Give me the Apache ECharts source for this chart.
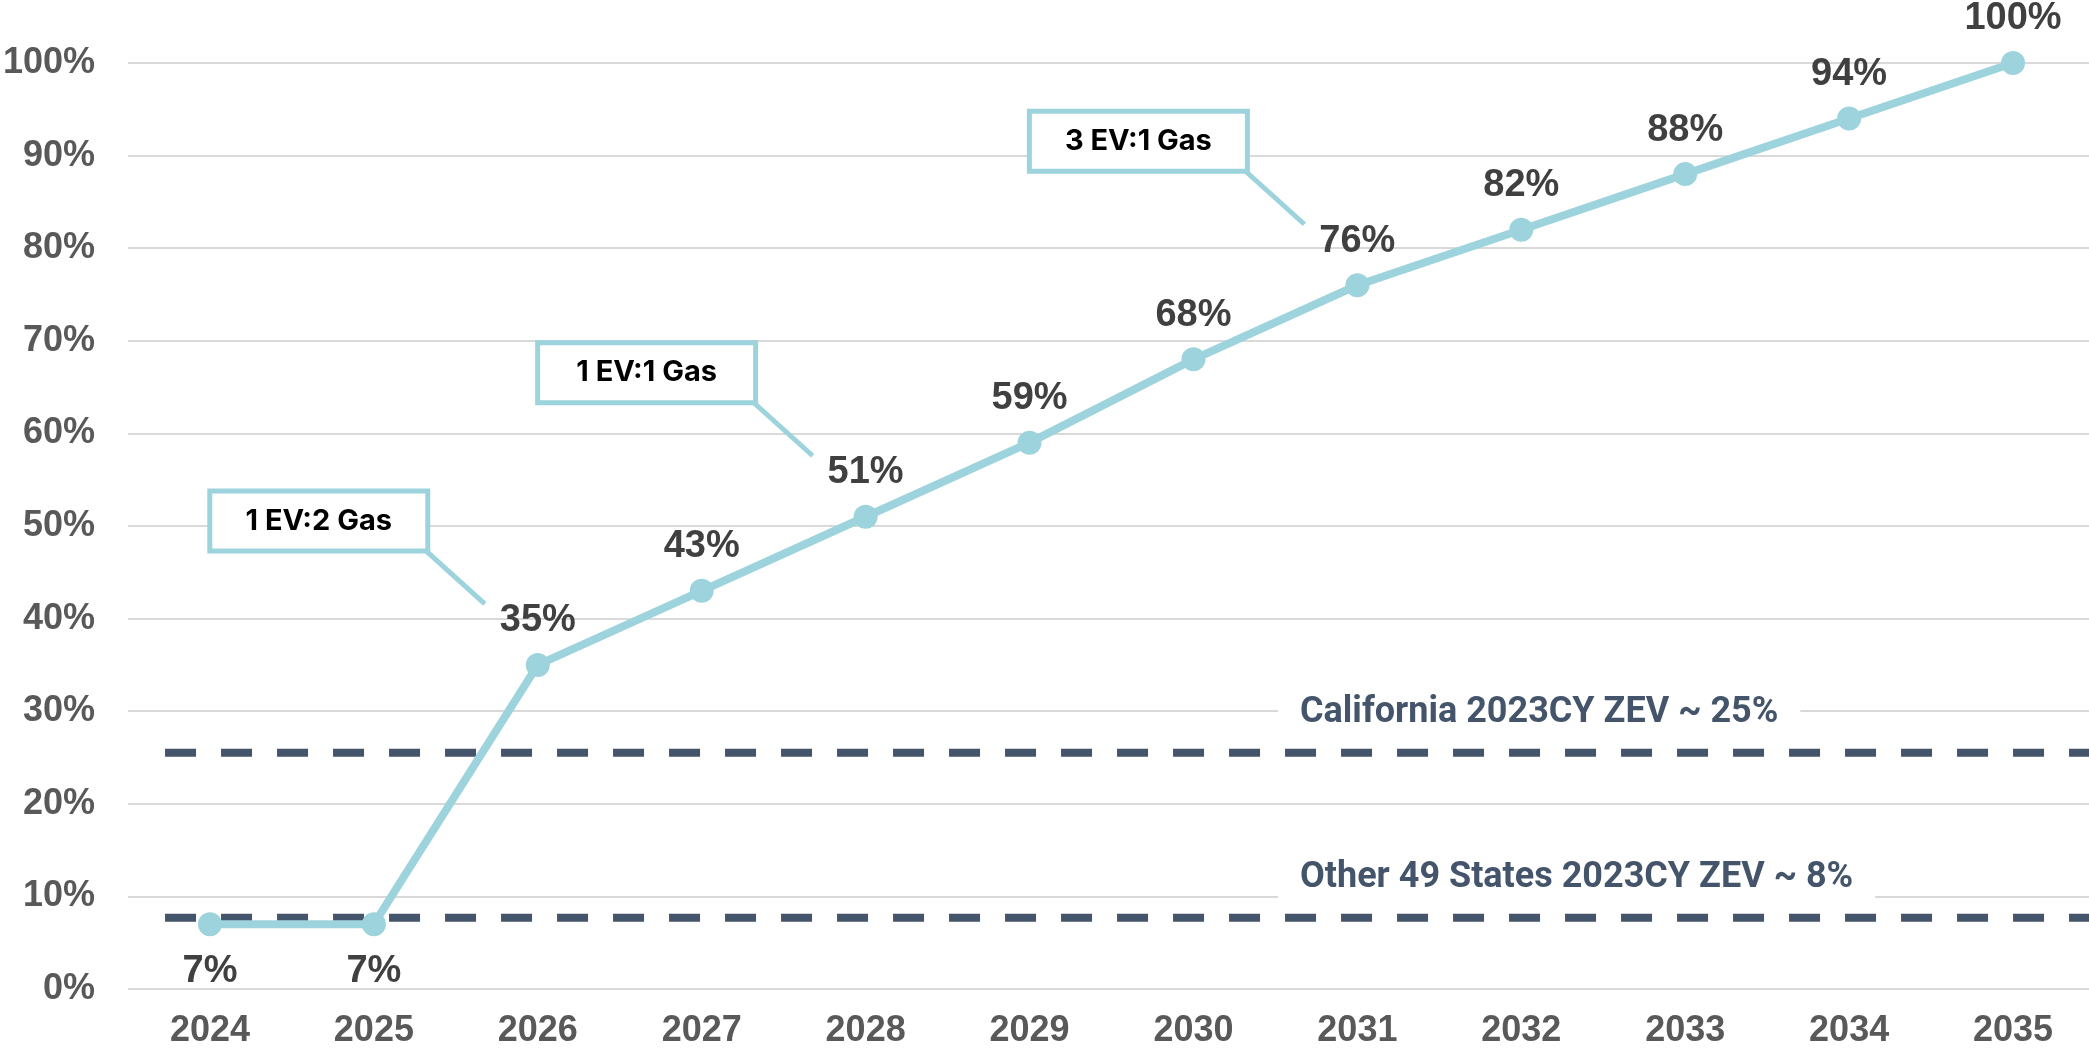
<!DOCTYPE html>
<html>
<head>
<meta charset="utf-8">
<script src="https://cdn.jsdelivr.net/npm/echarts@6/dist/echarts.min.js"></script>
<style>
  html, body { margin: 0; padding: 0; background: #ffffff; }
  #chart { width: 2089px; height: 1052px; }
</style>
</head>
<body>
<div id="chart"></div>
<script>
// data
const years = ['2024', '2025', '2026', '2027', '2028', '2029', '2030', '2031', '2032', '2033', '2034', '2035'];
const zevShare = [7, 7, 35, 43, 51, 59, 68, 76, 82, 88, 94, 100];

// reference lines (2023 calendar year ZEV share)
const refNames = ['California 2023CY ZEV ~ 25%', 'Other 49 States 2023CY ZEV ~ 8%'];
const refValues = [25.5, 7.7];

// callout boxes pinned to points
const calloutYears = ['2026', '2028', '2031'];
const calloutTexts = ['1 EV:2 Gas', '1 EV:1 Gas', '3 EV:1 Gas'];

const teal = '#9dd3dc';
const slate = '#44546a';

const chart = echarts.init(document.getElementById('chart'));

// first two points have their labels below the marker
const lineData = zevShare.map((v, i) => ({
  value: v,
  label: i < 2 ? { position: 'bottom', distance: 16 } : undefined
}));

// dashed reference lines run on a hidden value x-axis (band units)
const refSeries = refValues.map((v, i) => ({
  name: refNames[i],
  type: 'line',
  xAxisIndex: 1,
  yAxisIndex: 0,
  data: [[0.226, v], [12, v]],
  showSymbol: false,
  silent: true,
  z: 1,
  lineStyle: { color: slate, width: 8, type: [31, 25] }
}));

const option = {
  animation: false,
  backgroundColor: '#ffffff',
  grid: { left: 128, right: -6, top: 63, bottom: 63, outerBoundsMode: 'none', containLabel: false },
  xAxis: [
    {
      type: 'category',
      data: years,
      boundaryGap: true,
      axisLine: { show: false },
      axisTick: { show: false },
      axisLabel: {
        margin: 24,
        fontSize: 36,
        fontWeight: 'bold',
        color: '#595959',
        fontFamily: 'Liberation Sans, Arial, sans-serif'
      }
    },
    { type: 'value', min: 0, max: 12, show: false }
  ],
  yAxis: {
    type: 'value',
    min: 0,
    max: 100,
    interval: 10,
    axisLine: { show: false },
    axisTick: { show: false },
    splitLine: { lineStyle: { color: '#d9d9d9', width: 2 } },
    axisLabel: {
      margin: 33,
      formatter: '{value}%',
      fontSize: 36,
      fontWeight: 'bold',
      color: '#595959',
      fontFamily: 'Liberation Sans, Arial, sans-serif'
    }
  },
  series: [
    ...refSeries,
    {
      name: 'ZEV share',
      type: 'line',
      data: lineData,
      z: 3,
      symbol: 'circle',
      symbolSize: 24,
      lineStyle: { color: teal, width: 8 },
      itemStyle: { color: teal },
      label: {
        show: true,
        position: 'top',
        distance: 13,
        formatter: '{c}%',
        fontSize: 38,
        fontWeight: 'bold',
        color: '#404040',
        fontFamily: 'Liberation Sans, Arial, sans-serif'
      }
    }
  ]
};

chart.setOption(option);

// annotations placed from the chart's own coordinate conversion
function buildGraphics() {
  const elements = [];
  const boxW = 218, boxH = 60;

  calloutYears.forEach((yr, i) => {
    const val = zevShare[years.indexOf(yr)];
    const p = chart.convertToPixel({ xAxisIndex: 0, yAxisIndex: 0 }, [yr, val]);
    const cx = p[0] - 110, cy = p[1] - 114; // box bottom-right corner
    elements.push({
      type: 'line',
      shape: { x1: cx - 4, y1: cy - 2, x2: p[0] - 53, y2: p[1] - 61 },
      style: { stroke: teal, lineWidth: 5 },
      z: 10
    });
    elements.push({
      type: 'rect',
      shape: { x: cx - boxW, y: cy - boxH, width: boxW, height: boxH },
      style: { fill: '#ffffff', stroke: teal, lineWidth: 5 },
      z: 11
    });
    elements.push({
      type: 'text',
      x: cx - boxW / 2,
      y: cy - boxH / 2,
      style: {
        text: calloutTexts[i],
        fill: '#000000',
        font: 'bold 29px Inter, sans-serif',
        align: 'center',
        verticalAlign: 'middle'
      },
      z: 12
    });
  });

  refValues.forEach((v, i) => {
    const p = chart.convertToPixel({ xAxisIndex: 1, yAxisIndex: 0 }, [7.15, v]);
    elements.push({
      type: 'text',
      x: p[0] - 22,
      y: p[1] - 40,
      style: {
        text: refNames[i],
        fill: slate,
        font: 'bold 36px Roboto, sans-serif',
        align: 'left',
        verticalAlign: 'middle',
        backgroundColor: '#ffffff',
        padding: [8, 22, 8, 22]
      },
      z: 9
    });
  });

  chart.setOption({ graphic: { elements: elements } });
}

buildGraphics();
</script>
</body>
</html>
